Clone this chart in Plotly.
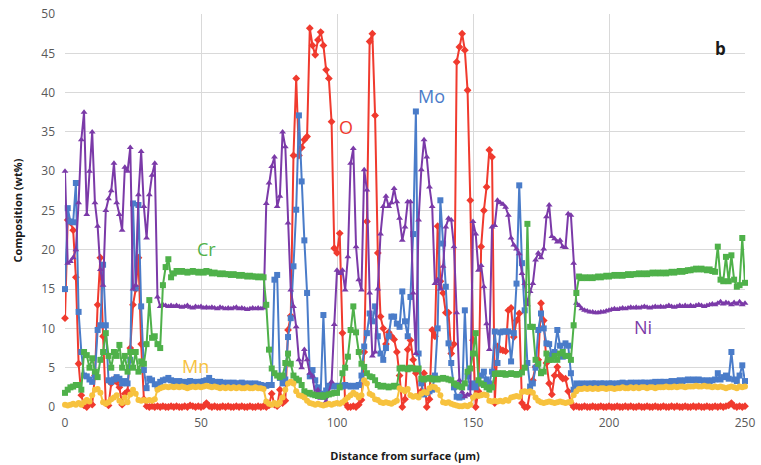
import plotly.graph_objects as go

# Distance from surface (µm), one measurement per µm
distance = list(range(0, 251))

ni = [
    30, 18.3, 18.5, 19, 20, 26, 34, 37.5, 24.5, 30,
    35, 26, 23, 17.5, 15.5, 25, 26.5, 27.5, 31, 26,
    24.5, 22.5, 30.5, 30, 33, 15, 15.5, 27, 32.5, 25.5,
    21.5, 27, 29.5, 31, 14, 12.8, 13.0, 12.9, 12.8, 12.9,
    12.8, 12.9, 12.8, 12.7, 12.8, 12.9, 12.7, 12.6, 12.8, 12.7,
    12.8, 12.6, 12.7, 12.6, 12.7, 12.6, 12.5, 12.7, 12.6, 12.5,
    12.6, 12.5, 12.6, 12.7, 12.5, 12.6, 12.5, 12.4, 12.5, 12.6,
    12.5, 12.6, 12.5, 12.6, 25.9, 28.5, 30.6, 31.8, 25.5, 26.8,
    35, 33.1, 23.4, 14.9, 12.8, 10.2, 6, 5, 7.3, 6,
    4.3, 3.9, 1.5, 2.2, 1.1, 1.5, 0.7, 1.8, 3.2, 10.5,
    17.4, 17, 17.4, 14.9, 19.1, 31, 32.9, 20.4, 16.2, 14.9,
    30.2, 27.6, 14.5, 6.5, 7, 15, 22, 25.5, 26.8, 25.5,
    26, 27.8, 26.1, 24, 21.2, 22.9, 26.1, 26.1, 14.5, 6.8,
    23.8, 30.2, 34, 31.8, 28, 25.5, 15.7, 16.2, 15, 17.9,
    22.9, 24, 23.8, 20.4, 12, 3.4, 1.9, 1.3, 1.6, 1.5,
    23.6, 22, 17.4, 18, 15.3, 10.6, 7.3, 22.9, 23.1, 26.3,
    26, 25.8, 25.4, 24.4, 21.5, 20.6, 20.1, 19.5, 17, 15.7,
    13, 14.7, 15.7, 18.7, 19.6, 19, 20.1, 24.2, 25.7, 21.7,
    21.4, 21, 21.2, 20.4, 20.3, 24.6, 24.4, 18.3, 13.2, 12.9,
    12.5, 12.3, 12.2, 12.1, 12.1, 12.0, 12.0, 12.1, 12.1, 12.2,
    12.3, 12.4, 12.5, 12.4, 12.5, 12.6, 12.5, 12.6, 12.7, 12.6,
    12.7, 12.6, 12.7, 12.8, 12.7, 12.6, 12.7, 12.8, 12.7, 12.8,
    12.7, 12.8, 12.9, 12.8, 12.7, 12.8, 12.9, 12.8, 12.9, 12.8,
    12.9, 12.8, 12.9, 13.0, 12.9, 12.8, 12.9, 13.0, 13.1, 13.0,
    13.2, 13.4, 13.1, 13.3, 13.2, 13.0, 13.3, 13.1, 13.4, 13.0,
    13.2,
]

oxygen = [
    11.3, 23.8, 23.5, 22.5, 16.5, 5.5, 1.5, 0.2, 0.0, 0.5,
    0.3, 4, 13, 19, 9, 0.5, 0.2, 3, 3.5, 3.2,
    2.5, 0.3, 1.7, 2, 7.5, 13, 15, 19, 8, 1,
    0.1, 0.0, 0.1, 0.0, 0.1, 0.0, 0.1, 0.0, 0.0, 0.1,
    0.0, 0.1, 0.0, 0.0, 0.1, 0.0, 0.2, 0.1, 0.0, 0.1,
    0.0, 0.1, 0.5, 0.1, 0.0, 0.1, 0.0, 0.0, 0.1, 0.0,
    0.1, 0.0, 0.0, 0.1, 0.0, 0.1, 0.0, 0.0, 0.1, 0.0,
    0.0, 0.1, 0.0, 0.1, 0.0, 0.2, 1.7, 0.3, 0.1, 2.2,
    0.5, 0.8, 9.8, 11.6, 32, 41.8, 32, 33, 34, 34.4,
    48.2, 46, 44.8, 46.7, 47.7, 46, 42.9, 41.8, 36.3, 20.2,
    19.6, 22.1, 9.4, 0.5, 0.0, 0.0, 0.1, 0.0, 0.3, 0.9,
    7, 23.6, 46.5, 47.5, 37.1, 19.6, 11.5, 10, 8, 9.5,
    9, 8.6, 7, 4, 0, 1, 7.3, 8.5, 6, 4.3,
    1.5, 2, 4.3, 0, 1, 9.8, 9, 23, 16, 14.5,
    12, 12, 6.8, 8, 43.9, 45.8, 47.5, 45.4, 40.3, 26.3,
    8.5, 0, 2, 20.4, 25, 28, 32.7, 31.8, 0.5, 7.7,
    7.3, 7.2, 7.1, 12.3, 12.6, 8.9, 11, 11.9, 0.5, 0,
    0, 2, 3.4, 5.1, 6, 13.2, 11, 5.6, 3, 1.6,
    4, 5.1, 4, 3.6, 3.6, 2, 0.5, 0.0, 0.1, 0.0,
    0.0, 0.1, 0.0, 0.0, 0.1, 0.0, 0.0, 0.1, 0.0, 0.0,
    0.1, 0.0, 0.0, 0.1, 0.0, 0.0, 0.1, 0.0, 0.1, 0.0,
    0.0, 0.1, 0.0, 0.0, 0.1, 0.0, 0.0, 0.1, 0.0, 0.0,
    0.1, 0.0, 0.0, 0.1, 0.0, 0.1, 0.0, 0.0, 0.1, 0.0,
    0.0, 0.1, 0.0, 0.1, 0.0, 0.0, 0.1, 0.0, 0.0, 0.1,
    0.0, 0.1, 0.0, 0.1, 0.2, 0.5, 0.1, 0.0, 0.1, 0.0,
    0.1,
]

mo = [
    15, 25.3, 23.6, 23.5, 28.5, 12.1, 7, 4, 3.9, 3.5,
    3.2, 4.1, 9.8, 10.4, 18.1, 10.4, 3.4, 3.2, 3.5, 3.8,
    3.6, 3.0, 3.3, 3.0, 6, 25.9, 15.1, 25.7, 12.8, 4.7,
    2.4, 3.6, 3.4, 2.9, 2.7, 3.2, 3.4, 3.5, 3.7, 3.4,
    3.3, 3.2, 3.3, 3.2, 3.1, 3.2, 3.3, 3.2, 3.1, 3.2,
    3.2, 3.3, 3.4, 3.7, 3.3, 3.2, 3.1, 3.2, 3.1, 3.0,
    3.1, 3.0, 3.1, 3.0, 3.0, 3.1, 3.0, 2.9, 3.0, 2.9,
    3.0, 2.9, 2.8, 2.7, 2.7, 2.8, 2.8, 16.2, 16.8, 3.7,
    3.0, 3.5, 8.9, 11.3, 17.9, 25.1, 37.1, 28.7, 21.2, 14.5,
    3.9, 4.7, 3.4, 2.5, 1.7, 11.7, 2.1, 2.7, 2.6, 2.7,
    2.6, 2.7, 2.6, 2.8, 2.7, 2.6, 2.7, 2.6, 2.8, 4.0,
    7.7, 9.4, 11.9, 10.9, 12.8, 9.0, 6.8, 6.0, 7.5, 9.0,
    11.5, 11.5, 10.6, 10.2, 14.7, 10.9, 9.0, 14.0, 22.0, 37.6,
    6.8, 3.0, 1.6, 1.8, 2.0, 2.2, 4.0, 10.0, 26.3, 20.8,
    15.3, 8.1, 5.6, 2.5, 1.3, 1.2, 1.3, 12.3, 3.9, 2.5,
    3.0, 2.5, 3.0, 4.0, 4.5, 3.5, 3.0, 4.5, 9.6, 5.6,
    9.5, 9.6, 9.6, 9.6, 5.8, 9.4, 15.7, 28.2, 18.3, 12.3,
    5.6, 2.6, 3.0, 5.0, 9.8, 11.9, 10.0, 8.1, 8.0, 6.6,
    7.0, 9.8, 7.8, 6.4, 8.1, 7.8, 4.3, 2.2, 3.0, 2.9,
    3.0, 2.9, 3.0, 2.9, 3.0, 3.0, 2.9, 3.0, 3.0, 2.9,
    3.0, 3.0, 2.9, 3.0, 3.0, 3.1, 3.0, 3.0, 3.1, 3.0,
    3.1, 3.0, 3.1, 3.1, 3.0, 3.1, 3.1, 3.2, 3.1, 3.2,
    3.2, 3.1, 3.2, 3.3, 3.2, 3.3, 3.4, 3.3, 3.4, 3.5,
    3.4, 3.5, 3.4, 3.5, 3.4, 3.3, 3.4, 3.3, 3.4, 3.5,
    4.3, 3.5, 3.8, 4.0, 3.6, 7.0, 3.5, 3.3, 4.0, 5.3,
    3.3,
]

cr = [
    1.8, 2.2, 2.5, 2.6, 2.8, 2.8, 2.2, 7.0, 6.6, 5.0,
    6.2, 4.5, 3.8, 6.0, 7.0, 9.4, 6.5, 5.0, 7.0, 6.5,
    7.9, 5.0, 6.5, 4.5, 7.0, 5.0, 7.0, 4.5, 5.8, 5.5,
    8.0, 13.6, 8.8, 9.0, 8.0, 7.5, 15.5, 17.8, 18.8, 16.5,
    17.0, 17.3, 17.2, 17.3, 17.2, 17.1, 17.2, 17.3, 17.2, 17.1,
    17.2, 17.1, 17.3, 17.2, 17.0, 17.1, 17.0, 16.9, 17.0, 16.9,
    16.9, 16.8, 16.9, 16.8, 16.7, 16.8, 16.7, 16.6, 16.7, 16.6,
    16.6, 16.5, 16.6, 16.5, 13.0, 7.3, 4.9, 4.3, 4.0, 3.8,
    4.0, 5.6, 6.8, 5.5, 4.0, 3.6, 3.4, 2.8, 2.0, 1.7,
    1.8, 1.6, 1.5, 1.4, 1.5, 1.3, 1.5, 1.6, 1.7, 1.8,
    1.8, 2.5, 4.3, 5.0, 6.4, 9.8, 12.8, 9.5, 7.0, 5.5,
    5.1, 4.3, 3.9, 3.8, 3.4, 2.8, 2.6, 2.7, 2.6, 2.5,
    2.6, 2.7, 2.6, 4.9, 5.0, 4.9, 4.8, 5.0, 4.9, 4.8,
    4.9, 3.6, 3.5, 3.6, 3.7, 3.5, 3.6, 3.5, 3.6, 3.7,
    3.6, 3.5, 3.4, 3.0, 2.8, 2.6, 2.5, 3.0, 4.5, 4.9,
    6.8, 9.4, 3.4, 3.0, 2.8, 2.5, 2.2, 2.5, 4.2, 4.3,
    4.2, 4.3, 4.1, 4.2, 4.3, 4.2, 4.1, 4.2, 4.4, 5.0,
    23.3, 10.2, 10.2, 6.0, 5.5, 4.3, 4.5, 6.8, 6.0, 6.0,
    6.5, 6.0, 6.8, 7.0, 6.5, 6.5, 6.0, 10.4, 14.5, 16.6,
    16.4, 16.5, 16.4, 16.5, 16.4, 16.5, 16.6, 16.5, 16.6, 16.7,
    16.6, 16.7, 16.8, 16.7, 16.8, 16.7, 16.8, 16.9, 16.8, 16.9,
    16.9, 17.0, 16.9, 17.0, 16.9, 17.0, 17.1, 17.0, 17.1, 17.0,
    17.1, 17.0, 17.1, 17.2, 17.1, 17.2, 17.3, 17.2, 17.3, 17.4,
    17.4, 17.5, 17.6, 17.5, 17.6, 17.5, 17.4, 17.5, 17.3, 17.2,
    20.4, 16.2, 16.0, 19.1, 16.0, 19.3, 16.2, 15.3, 15.5, 21.5,
    15.8,
]

mn = [
    0.3, 0.2, 0.3, 0.4, 0.3, 0.5, 0.3, 0.6, 0.9, 0.7,
    1.5, 2.2, 2.3, 1.8, 0.6, 0.4, 0.6, 1.0, 1.2, 1.5,
    0.8, 0.5, 1.2, 0.6, 1.6, 2.2, 1.7, 0.9, 0.8, 0.9,
    0.8, 0.9, 0.8, 1.0, 2.2, 2.4, 2.5, 2.6, 2.5, 2.6,
    2.5, 2.6, 2.5, 2.6, 2.5, 2.4, 2.5, 2.6, 2.5, 2.6,
    2.5, 2.6, 2.7, 2.6, 2.5, 2.6, 2.5, 2.4, 2.5, 2.4,
    2.5, 2.4, 2.5, 2.4, 2.5, 2.4, 2.4, 2.5, 2.4, 2.4,
    2.5, 2.4, 2.4, 2.3, 0.7, 0.4, 0.3, 0.5, 0.3, 0.6,
    1.2, 2.2, 3.0, 3.2, 3.0, 2.0, 1.5, 1.4, 1.2, 0.8,
    0.5, 0.4, 0.3, 0.4, 0.3, 0.2, 0.3, 0.4, 0.3, 0.4,
    0.5, 0.4, 0.6, 0.9, 1.2, 1.5, 1.8, 1.6, 1.2, 1.5,
    3.4, 3.0, 1.7, 1.5, 1.0, 0.9, 0.6, 0.5, 0.6, 0.5,
    0.4, 0.6, 0.8, 2.4, 2.2, 2.0, 2.3, 1.5, 1.3, 1.4,
    1.2, 1.7, 1.9, 1.8, 2.4, 2.6, 2.5, 2.2, 1.5, 0.6,
    0.5, 0.6, 0.4, 0.3, 0.2, 0.1, 0.1, 0.2, 0.1, 0.3,
    1.2, 1.5, 1.4, 1.5, 1.6, 1.5, 0.8, 0.7, 0.8, 0.7,
    0.8, 0.7, 0.9, 0.8, 1.2, 1.3, 1.4, 1.3, 1.9, 2.0,
    1.9, 2.0, 1.8, 1.2, 0.8, 0.6, 0.5, 0.6, 0.7, 0.6,
    0.5, 0.6, 0.7, 0.6, 0.5, 0.6, 0.7, 1.5, 2.0, 2.3,
    2.3, 2.4, 2.3, 2.4, 2.3, 2.4, 2.3, 2.4, 2.4, 2.3,
    2.4, 2.4, 2.3, 2.4, 2.4, 2.5, 2.4, 2.4, 2.5, 2.4,
    2.5, 2.4, 2.5, 2.5, 2.4, 2.5, 2.5, 2.4, 2.5, 2.5,
    2.5, 2.6, 2.5, 2.5, 2.6, 2.5, 2.6, 2.6, 2.5, 2.6,
    2.6, 2.6, 2.7, 2.6, 2.6, 2.7, 2.6, 2.6, 2.5, 2.6,
    2.5, 2.6, 2.5, 2.4, 2.5, 2.6, 2.5, 2.4, 2.6, 2.5,
    2.6,
]

series = [
    ("O", oxygen, "#F03A2E", "diamond"),
    ("Mo", mo, "#4A7CC9", "square"),
    ("Ni", ni, "#7B3AA8", "triangle-up"),
    ("Cr", cr, "#4FB14A", "square"),
    ("Mn", mn, "#F7C23E", "circle"),
]

fig = go.Figure()
for name, vals, color, sym in series:
    fig.add_trace(go.Scatter(
        x=distance, y=vals, name=name, mode="lines+markers",
        line=dict(color=color, width=2),
        marker=dict(color=color, symbol=sym, size=6),
        cliponaxis=False, showlegend=False,
    ))

labels = [
    ("Cr", 52.2, 20.1, "#4FB14A"),
    ("O", 103.3, 35.6, "#F03A2E"),
    ("Mo", 134.9, 39.6, "#4A7CC9"),
    ("Ni", 212.5, 10.2, "#7B3AA8"),
    ("Mn", 47.8, 5.2, "#F7C23E"),
]
for txt, lx, ly, col in labels:
    fig.add_annotation(x=lx, y=ly, text=txt, showarrow=False,
                       font=dict(family="Open Sans", size=18, color=col))

fig.add_annotation(x=0.975, y=0.947, xref="paper", yref="paper", text="<b>b</b>",
                   showarrow=False, font=dict(family="Open Sans", size=17, color="#1a1a1a"))

tickfont = dict(family="Open Sans", size=12, color="#595959")
fig.update_layout(
    width=761, height=465,
    margin=dict(l=65, r=16, t=14, b=58),
    paper_bgcolor="white", plot_bgcolor="white",
    xaxis=dict(range=[0, 250], dtick=50, tick0=0, showgrid=True, gridcolor="#D9D9D9",
               gridwidth=1, zeroline=False, showline=False, ticks="", tickfont=tickfont,
               automargin=False, ticklabelstandoff=7,
               title=dict(text="<b>Distance from surface (µm)</b>", standoff=22,
                          font=dict(family="Open Sans", size=11, color="#1a1a1a"))),
    yaxis=dict(range=[0, 50], dtick=5, tick0=0, showgrid=True, gridcolor="#D9D9D9",
               gridwidth=1, zeroline=False, showline=False, ticks="", tickfont=tickfont,
               automargin=False, ticklabelstandoff=9,
               title=dict(text="<b>Composition (wt%)</b>", standoff=16,
                          font=dict(family="Open Sans", size=11, color="#1a1a1a"))),
)

fig.write_html("out.html")
